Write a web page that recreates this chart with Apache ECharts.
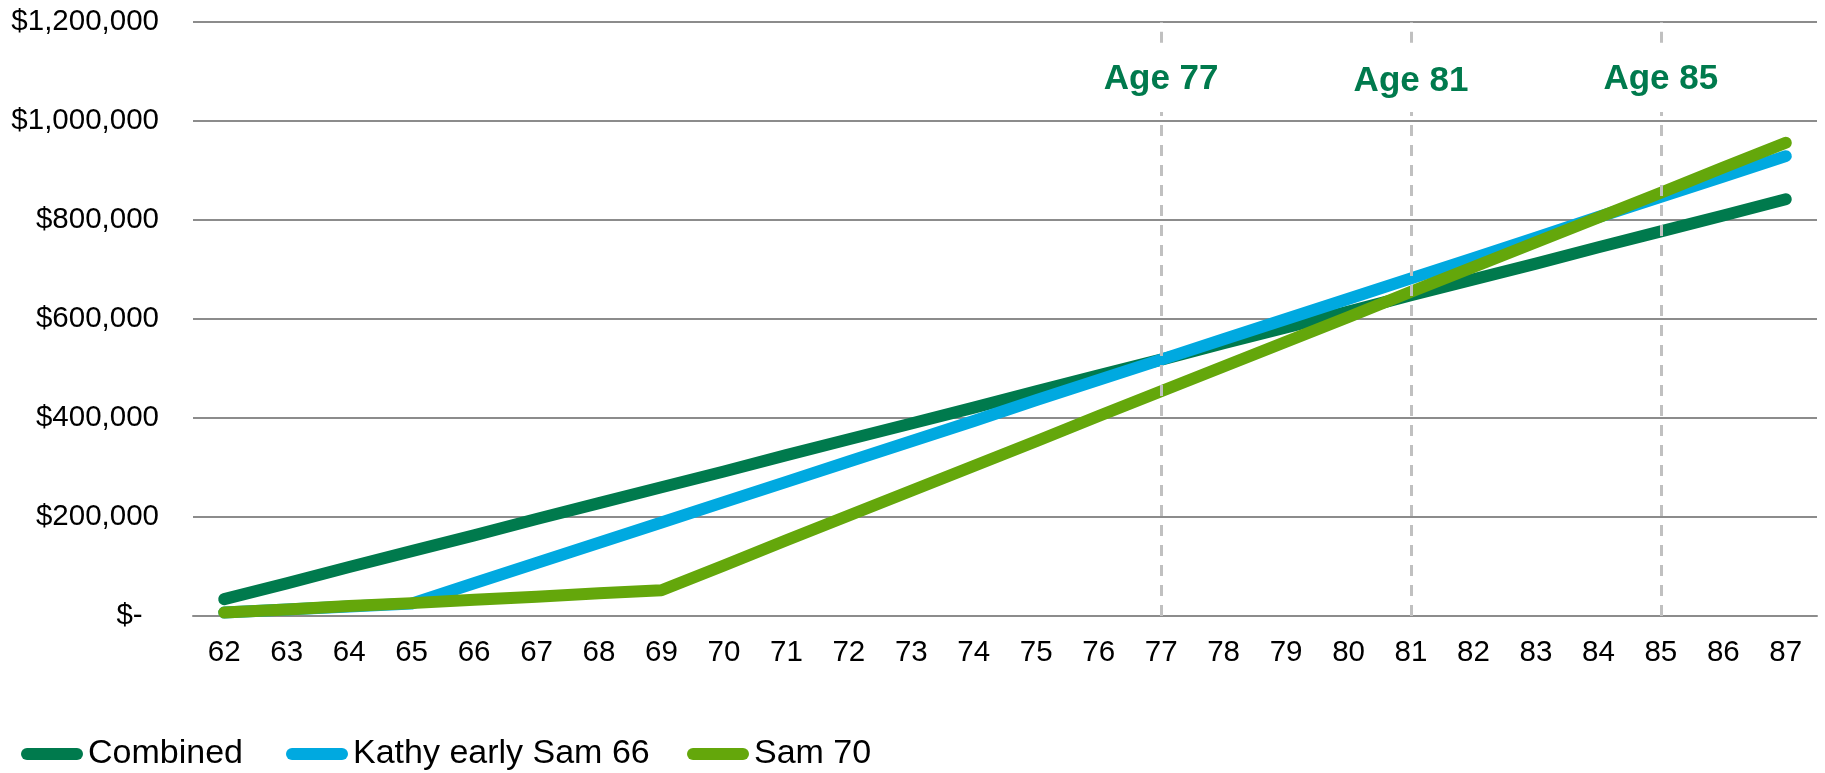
<!DOCTYPE html>
<html><head><meta charset="utf-8">
<script src="https://cdn.jsdelivr.net/npm/echarts@6/dist/echarts.min.js"></script>
<style>html,body{margin:0;padding:0;background:#fff}#c{width:1825px;height:773px}</style>
</head><body><div id="c"></div>
<script>
const ages = ['62','63','64','65','66','67','68','69','70','71','72','73','74','75','76','77','78','79','80','81','82','83','84','85','86','87'];
const combined = [34000,66000,99000,131000,163000,196000,228000,260000,292000,325000,357000,389000,421000,454000,486000,518000,551000,583000,615000,648000,680000,712000,745000,777000,809000,842000];
const kathyEarlySam66 = [7000,13000,19000,25000,66000,107000,148000,189000,230000,271000,312000,353000,394000,436000,477000,518000,559000,600000,641000,682000,723000,764000,806000,847000,888000,929000];
const sam70 = [7000,13000,20000,26000,33000,39000,46000,52000,102000,153000,203000,253000,303000,353000,404000,454000,504000,554000,604000,655000,705000,755000,805000,855000,906000,956000];
const seriesNames = ['Combined','Kathy early Sam 66','Sam 70'];
const yMin = 0, yMax = 1200000, yStep = 200000;
const markerAges = ['77','81','85'];
const markerLabels = ['Age 77','Age 81','Age 85'];
const markerLabelValues = [1085000, 1080000, 1085000];
const markerGap = [1018000, 1158000];

const FONT = "'Liberation Sans', Arial, Helvetica, sans-serif";
const colors = ['#007A4D', '#00A9E0', '#64A70B'];
const pill = 'path://M6,0H56A6,6,0,0,1,56,12H6A6,6,0,0,1,6,0Z';

function lineSeries(name, data, color) {
  return {
    name, type: 'line', data, symbol: 'none', showSymbol: false,
    itemStyle: { color },
    lineStyle: { color, width: 12, cap: 'round', join: 'round' },
    emphasis: { disabled: true }, silent: true
  };
}

const markLineData = [];
markerAges.forEach(a => {
  markLineData.push([{ coord: [a, yMin] }, { coord: [a, markerGap[0]] }]);
  markLineData.push([{ coord: [a, markerGap[1]] }, { coord: [a, yMax] }]);
});

function legend(name, left) {
  return {
    data: [{ name, icon: pill }], left, top: 737, padding: 0,
    itemWidth: 62, itemHeight: 12, selectedMode: false,
    textStyle: { fontFamily: FONT, fontSize: 34, color: '#000' }
  };
}

const chart = echarts.init(document.getElementById('c'), null, { renderer: 'canvas' });
chart.setOption({
  animation: false,
  backgroundColor: '#fff',
  grid: { left: 193, right: 8, top: 22, bottom: 157 },
  legend: [legend(seriesNames[0], 21), legend(seriesNames[1], 286), legend(seriesNames[2], 687)],
  xAxis: {
    type: 'category', data: ages, boundaryGap: true,
    axisLine: { show: true, lineStyle: { color: '#8c8c8c', width: 2 } },
    axisTick: { show: false },
    axisLabel: { fontFamily: FONT, fontSize: 29.5, color: '#000', margin: 22 },
    splitLine: { show: false }
  },
  yAxis: {
    type: 'value', min: yMin, max: yMax, interval: yStep,
    axisLine: { show: false }, axisTick: { show: false },
    axisLabel: {
      fontFamily: FONT, fontSize: 29.5, color: '#000', margin: 34,
      formatter: v => v === 0 ? '$-\u00a0\u00a0' : '$' + v.toLocaleString('en-US')
    },
    splitLine: { show: true, lineStyle: { color: '#8c8c8c', width: 2 } }
  },
  series: [
    lineSeries(seriesNames[0], combined, colors[0]),
    lineSeries(seriesNames[1], kathyEarlySam66, colors[1]),
    lineSeries(seriesNames[2], sam70, colors[2]),
    {
      type: 'scatter', symbol: 'circle', symbolSize: 1, silent: true, z: 5,
      itemStyle: { color: '#ffffff', opacity: 1 },
      data: markerAges.map((a, i) => ({ value: [a, markerLabelValues[i]], name: markerLabels[i] })),
      label: {
        show: true, position: 'inside', formatter: p => p.name, opacity: 1,
        fontFamily: FONT, fontSize: 35, fontWeight: 'bold', color: '#007A4D',
        textBorderWidth: 0, textBorderColor: 'transparent'
      },
      markLine: {
        silent: true, symbol: 'none', animation: false,
        label: { show: false },
        lineStyle: { color: '#c0c0c0', width: 3, type: [11, 9] },
        data: markLineData
      }
    }
  ]
});
</script></body></html>
